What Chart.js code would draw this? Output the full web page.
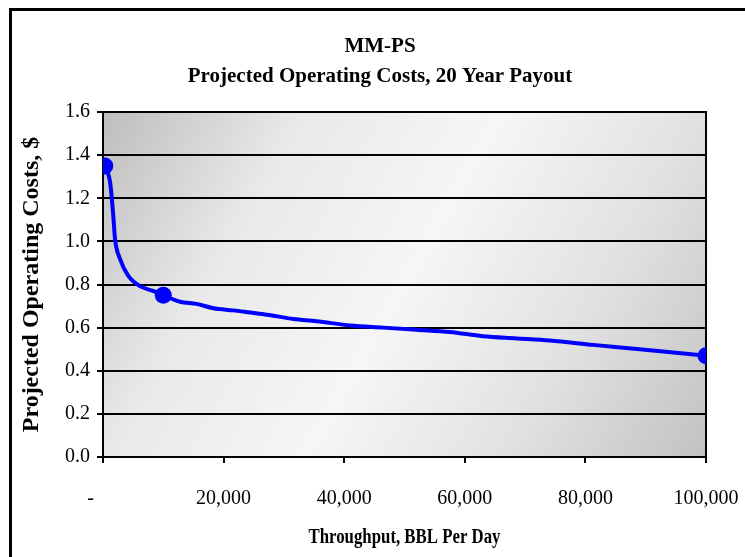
<!DOCTYPE html>
<html>
<head>
<meta charset="utf-8">
<script src="https://cdn.jsdelivr.net/npm/chart.js@4/dist/chart.umd.min.js"></script>
<style>
  html, body { margin: 0; padding: 0; background: #ffffff; }
  #wrap { width: 745px; height: 557px; position: relative; overflow: hidden; }
</style>
</head>
<body>
<div id="wrap"><canvas id="chart" width="745" height="557"></canvas></div>
<script>
// Titles
const chartTitle = ['MM-PS', 'Projected Operating Costs, 20 Year Payout'];
const xAxisTitle = 'Throughput, BBL Per Day';
const yAxisTitle = 'Projected Operating Costs, $';

// Axis ticks
const xTicks = [0, 20000, 40000, 60000, 80000, 100000];
const yTicks = [0, 0.2, 0.4, 0.6, 0.8, 1.0, 1.2, 1.4, 1.6];

// Cost curve (throughput in BBL/day, cost in $/BBL)
const curveX = [300, 1200, 1700, 2000, 2800, 4200, 6300, 8300, 10000, 12800, 15500, 18300,
                21600, 24400, 27200, 31600, 35400, 41000, 46500, 52000, 57500, 63000,
                68600, 74100, 81300, 89000, 100000];
const curveY = [1.35, 1.27, 1.12, 1.01, 0.92, 0.84, 0.79, 0.77, 0.75, 0.72, 0.71, 0.69,
                0.68, 0.67, 0.66, 0.64, 0.63, 0.61, 0.60, 0.59, 0.58, 0.56,
                0.55, 0.54, 0.52, 0.50, 0.47];

// Highlighted design points
const markerX = [300, 10000, 100000];
const markerY = [1.35, 0.75, 0.47];

const serif = '"Liberation Serif", "Times New Roman", Times, serif';
const BLUE = '#0000ff';

const toPoints = (xs, ys) => xs.map((x, i) => ({ x: x, y: ys[i] }));

// Frame, plot background and text drawn around the Chart.js scales
const decorations = {
  id: 'decorations',
  beforeDraw(chart) {
    const ctx = chart.ctx;
    const a = chart.chartArea;
    ctx.save();
    ctx.fillStyle = '#ffffff';
    ctx.fillRect(0, 0, chart.width, chart.height);
    // outer frame
    ctx.strokeStyle = '#000000';
    ctx.lineWidth = 3;
    ctx.strokeRect(10.5, 9.5, 760, 580);
    // plot area shading
    const g = ctx.createLinearGradient(a.left, a.top, a.right, a.bottom);
    g.addColorStop(0, '#bdbdbd');
    g.addColorStop(0.25, '#e9e9e9');
    g.addColorStop(0.5, '#f6f6f6');
    g.addColorStop(0.75, '#e1e1e1');
    g.addColorStop(1, '#c2c2c2');
    ctx.fillStyle = g;
    ctx.fillRect(a.left, a.top, a.right - a.left, a.bottom - a.top);
    ctx.restore();
  },
  beforeDatasetsDraw(chart) {
    const ctx = chart.ctx;
    const a = chart.chartArea;
    ctx.save();
    ctx.strokeStyle = '#000000';
    ctx.lineWidth = 2;
    ctx.beginPath();
    ctx.moveTo(a.right, a.top - 1);
    ctx.lineTo(a.right, a.bottom);
    ctx.moveTo(a.left, a.top);
    ctx.lineTo(a.right, a.top);
    ctx.stroke();
    ctx.restore();
  },
  afterDraw(chart) {
    const ctx = chart.ctx;
    const a = chart.chartArea;
    ctx.save();
    ctx.fillStyle = '#000000';
    ctx.textAlign = 'center';
    ctx.textBaseline = 'middle';
    ctx.font = 'bold 21px ' + serif;
    ctx.fillText(chartTitle[0], 380, 47);
    ctx.fillText(chartTitle[1], 380, 77);
    // x axis title, slightly condensed lettering
    ctx.save();
    ctx.translate((a.left + a.right) / 2, 538);
    ctx.scale(0.84, 1);
    ctx.font = 'bold 20px ' + serif;
    ctx.fillText(xAxisTitle, 0, 0);
    ctx.restore();
    // y axis title
    ctx.translate(32, (a.top + a.bottom) / 2);
    ctx.rotate(-Math.PI / 2);
    ctx.font = 'bold 24px ' + serif;
    ctx.fillText(yAxisTitle, 0, 0);
    ctx.restore();
  }
};

new Chart(document.getElementById('chart'), {
  type: 'scatter',
  data: {
    datasets: [
      {
        label: 'Operating cost',
        data: toPoints(curveX, curveY),
        showLine: true,
        borderColor: BLUE,
        borderWidth: 4,
        pointRadius: 0,
        cubicInterpolationMode: 'monotone',
        order: 2
      },
      {
        label: 'Design points',
        data: toPoints(markerX, markerY),
        showLine: false,
        pointRadius: 8.5,
        pointHoverRadius: 8.5,
        backgroundColor: BLUE,
        borderWidth: 0,
        order: 1
      }
    ]
  },
  options: {
    responsive: false,
    animation: false,
    events: [],
    layout: { padding: { top: 112, right: 39, left: 0, bottom: 0 } },
    plugins: {
      legend: { display: false },
      tooltip: { enabled: false },
      title: { display: false }
    },
    scales: {
      x: {
        type: 'linear',
        min: 0,
        max: 100000,
        afterBuildTicks(scale) { scale.ticks = xTicks.map(v => ({ value: v })); },
        afterFit(scale) {
          scale.height = 100;
          scale.paddingLeft = 0;
          scale.paddingRight = 0;
        },
        ticks: {
          autoSkip: false,
          maxRotation: 0,
          padding: 24,
          color: '#000000',
          font: { family: serif, size: 20 },
          callback: v => (v === 0 ? '-     ' : v.toLocaleString('en-US'))
        },
        grid: {
          drawOnChartArea: false,
          drawTicks: true,
          tickLength: 6,
          color: '#000000',
          lineWidth: 2
        },
        border: { display: true, color: '#000000', width: 2 }
      },
      y: {
        type: 'linear',
        min: 0,
        max: 1.6,
        afterBuildTicks(scale) { scale.ticks = yTicks.map(v => ({ value: v })); },
        afterFit(scale) {
          scale.width = 103;
          scale.paddingTop = 0;
          scale.paddingBottom = 0;
        },
        ticks: {
          autoSkip: false,
          padding: 7,
          color: '#000000',
          font: { family: serif, size: 20 },
          callback: v => Number(v).toFixed(1)
        },
        grid: {
          drawTicks: true,
          tickLength: 6,
          color: '#000000',
          lineWidth: 2
        },
        border: { display: true, color: '#000000', width: 2 }
      }
    }
  },
  plugins: [decorations]
});
</script>
</body>
</html>
